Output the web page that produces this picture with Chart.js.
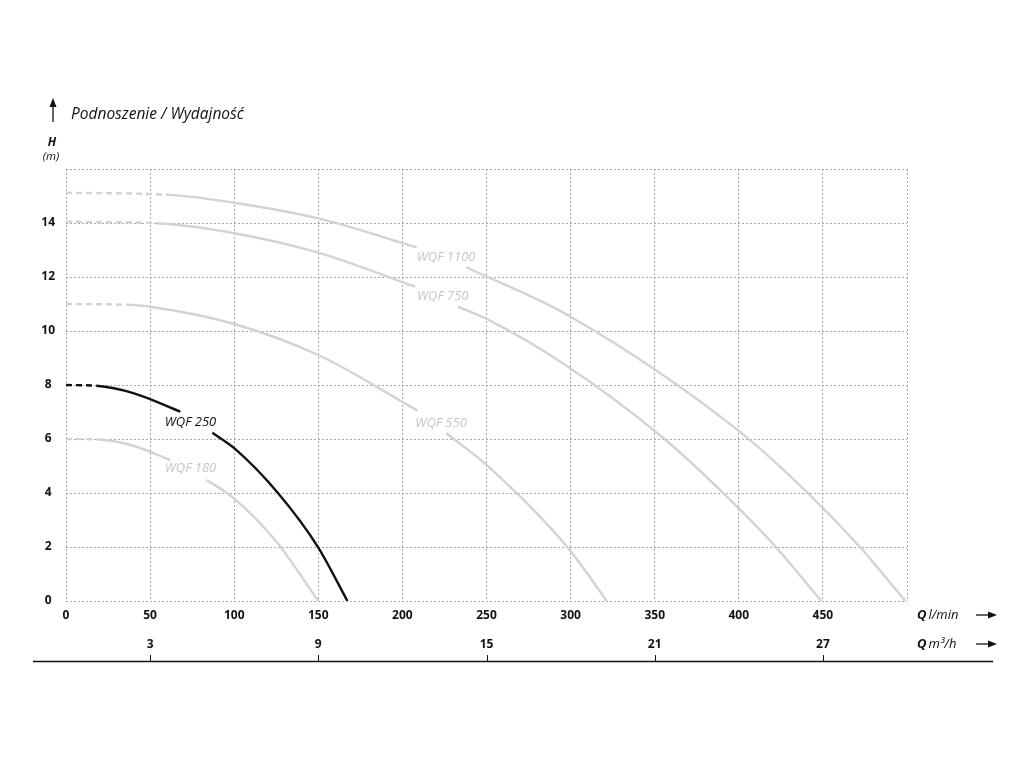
<!DOCTYPE html>
<html>
<head>
<meta charset="utf-8">
<script src="https://cdn.jsdelivr.net/npm/chart.js@4/dist/chart.umd.min.js"></script>
<style>
html, body { margin:0; padding:0; background:#ffffff; }
#pumpChartContainer { width:1024px; height:768px; }
</style>
</head>
<body>
<div id="pumpChartContainer"><canvas id="pumpChart" width="1024" height="768"></canvas></div>
<script>
/*
 pump curves : Q (l/min) -> H (m)
 a null head leaves a gap in the curve where the model name is written
*/
var q180  = [0, 20, 40, 62, 73, 83.6, 99.5, 125, 150];
var h180  = [6.0, 5.98, 5.75, 5.22, null, 4.48, 3.82, 2.2, 0];

var q250  = [0, 18, 40, 68, 77, 87, 100, 126, 150, 167.3];
var h250  = [8.0, 7.97, 7.7, 7.01, null, 6.23, 5.66, 4.0, 1.98, 0];

var q550  = [0, 36, 50, 100, 150, 209, 217, 226, 250, 298, 321.5];
var h550  = [11.0, 10.97, 10.9, 10.26, 9.11, 7.05, null, 6.22, 5.04, 2.0, 0];

var q750  = [0, 56, 100, 150, 207.5, 220, 233, 250, 294, 356, 400, 422, 449];
var h750  = [14.05, 13.98, 13.62, 12.9, 11.64, null, 10.9, 10.45, 8.86, 5.99, 3.43, 2.0, 0];

var q1100 = [0, 62, 100, 150, 208.5, 223, 238, 300, 400, 441, 472, 499];
var h1100 = [15.12, 15.04, 14.75, 14.17, 13.1, null, 12.36, 10.53, 6.3, 4.0, 2.0, 0];

var curveNames  = ['WQF 180', 'WQF 250', 'WQF 550', 'WQF 750', 'WQF 1100'];
var curveDashTo = [20, 18, 36, 56, 62];           // measured part starts here, before it dashed
var m3hTicks    = [3, 9, 15, 21, 27];             // second flow axis, m3/h

var curveQ = [q180, q250, q550, q750, q1100];
var curveH = [h180, h250, h550, h750, h1100];

// styles
var curveColors = ['#d3d3d3', '#111111', '#d3d3d3', '#d3d3d3', '#d3d3d3'];
var labelColors = ['#c6c6c6', '#111111', '#c6c6c6', '#c6c6c6', '#c6c6c6'];
var labelAnchorQ = [74, 74, 223, 224, 226];
var labelAnchorH = [4.9, 6.62, 6.6, 11.3, 12.72];

Chart.defaults.font.family = "'Open Sans', 'Noto Sans', sans-serif";
Chart.defaults.color = '#111';

function makeCurveData(qs, hs){
   var points = new Array();
   for(var i=0; i<qs.length; i++){
      points.push({x: qs[i], y: hs[i]});
   }
   return points;
}

function makeCurveDataset(idx){
   var dashTo = curveDashTo[idx];
   return {
      label : curveNames[idx],
      data : makeCurveData(curveQ[idx], curveH[idx]),
      borderColor : curveColors[idx],
      borderWidth : 2.4,
      pointRadius : 0,
      fill : false,
      spanGaps : false,
      cubicInterpolationMode : 'monotone',
      segment : {
         borderDash : function(ctx){ return ctx.p1.parsed.x <= dashTo ? [6, 4] : undefined; }
      }
   };
}

function drawArrowRight(ctx, x1, x2, y){
   ctx.beginPath();
   ctx.moveTo(x1, y);
   ctx.lineTo(x2 - 6, y);
   ctx.stroke();
   ctx.beginPath();
   ctx.moveTo(x2, y);
   ctx.lineTo(x2 - 9, y - 3.5);
   ctx.lineTo(x2 - 9, y + 3.5);
   ctx.closePath();
   ctx.fill();
}

function drawUnit(ctx, unit, x, y){
   ctx.textAlign = 'left';
   ctx.font = "italic bold 13px 'Open Sans'";
   ctx.fillText('Q', x, y);
   var w = ctx.measureText('Q').width;
   ctx.font = "italic 13px 'Open Sans'";
   ctx.fillText(unit, x + w + 2, y);
}

var extrasPlugin = {
   id : 'extras',
   afterDraw : function(chart){
      var ctx = chart.ctx;
      var xs = chart.scales.x, ys = chart.scales.y, x2 = chart.scales.x2;
      ctx.save();
      ctx.fillStyle = '#111';
      ctx.strokeStyle = '#111';
      ctx.lineWidth = 1.3;
      ctx.textBaseline = 'middle';

      // vertical arrow + title
      ctx.beginPath();
      ctx.moveTo(53, 122);
      ctx.lineTo(53, 105);
      ctx.stroke();
      ctx.beginPath();
      ctx.moveTo(53, 98);
      ctx.lineTo(49.5, 107);
      ctx.lineTo(56.5, 107);
      ctx.closePath();
      ctx.fill();
      ctx.textAlign = 'left';
      ctx.font = "italic 15.5px 'Open Sans'";
      ctx.fillText('Podnoszenie / Wydajność', 71, 115);

      ctx.textAlign = 'center';
      ctx.font = "italic bold 12px 'Open Sans'";
      ctx.fillText('H', 52, 143);
      ctx.font = "italic 11.5px 'Open Sans'";
      ctx.fillText('(m)', 51, 157);

      // flow units
      drawUnit(ctx, 'l/min', 917, 615);
      drawUnit(ctx, 'm\u00b3/h', 917, 644);
      drawArrowRight(ctx, 976, 997, 615);
      drawArrowRight(ctx, 976, 997, 644);

      // second axis base line with small ticks
      ctx.lineWidth = 1.3;
      ctx.beginPath();
      ctx.moveTo(33, 661.5);
      ctx.lineTo(993, 661.5);
      ctx.stroke();
      ctx.lineWidth = 1;
      x2.ticks.forEach(function(t){
         var px = Math.round(x2.getPixelForValue(t.value)) + 0.5;
         ctx.beginPath();
         ctx.moveTo(px, 655);
         ctx.lineTo(px, 661);
         ctx.stroke();
      });

      // curve names
      ctx.textAlign = 'center';
      ctx.font = "italic 13px 'Open Sans'";
      for(var i=0; i<curveNames.length; i++){
         ctx.fillStyle = labelColors[i];
         ctx.fillText(curveNames[i], xs.getPixelForValue(labelAnchorQ[i]), ys.getPixelForValue(labelAnchorH[i]));
      }
      ctx.restore();
   }
};

var datasets = new Array();
for(var i=0; i<curveNames.length; i++){
   datasets.push(makeCurveDataset(i));
}

var gridStyle = { color : '#a8a8a8', lineWidth : 1, drawTicks : false };
var borderStyle = { display : false, dash : [2, 2] };
var tickFont = { size : 12, weight : 'bold' };

new Chart(document.getElementById('pumpChart').getContext('2d'), {
   type : 'line',
   data : { datasets : datasets },
   options : {
      responsive : false,
      animation : false,
      layout : { padding : { left : 0, right : 117, top : 169, bottom : 101 } },
      plugins : { legend : { display : false }, tooltip : { enabled : false } },
      scales : {
         x : {
            type : 'linear', position : 'bottom', weight : 1, min : 0, max : 500,
            grid : gridStyle, border : borderStyle,
            ticks : { stepSize : 50, padding : 7, maxRotation : 0, color : '#111', font : tickFont,
                      callback : function(v){ return v == 500 ? '' : v; } },
            afterFit : function(s){ s.height = 26; }
         },
         x2 : {
            type : 'linear', position : 'bottom', weight : 2, min : 0, max : 500,
            grid : { display : false, drawTicks : false }, border : { display : false },
            ticks : { padding : 10, maxRotation : 0, color : '#111', font : tickFont,
                      callback : function(v){ return Math.round(v * 60 / 1000); } },
            afterBuildTicks : function(s){
               s.ticks = m3hTicks.map(function(m){ return { value : m * 1000 / 60 }; });
            },
            afterFit : function(s){ s.height = 40; }
         },
         y : {
            type : 'linear', position : 'left', min : 0, max : 16,
            grid : gridStyle, border : borderStyle,
            ticks : { stepSize : 2, padding : 11, crossAlign : 'center', color : '#111', font : tickFont,
                      callback : function(v){ return v == 16 ? '' : v; } },
            afterFit : function(s){ s.width = 66; }
         }
      }
   },
   plugins : [extrasPlugin]
});
</script>
</body>
</html>
